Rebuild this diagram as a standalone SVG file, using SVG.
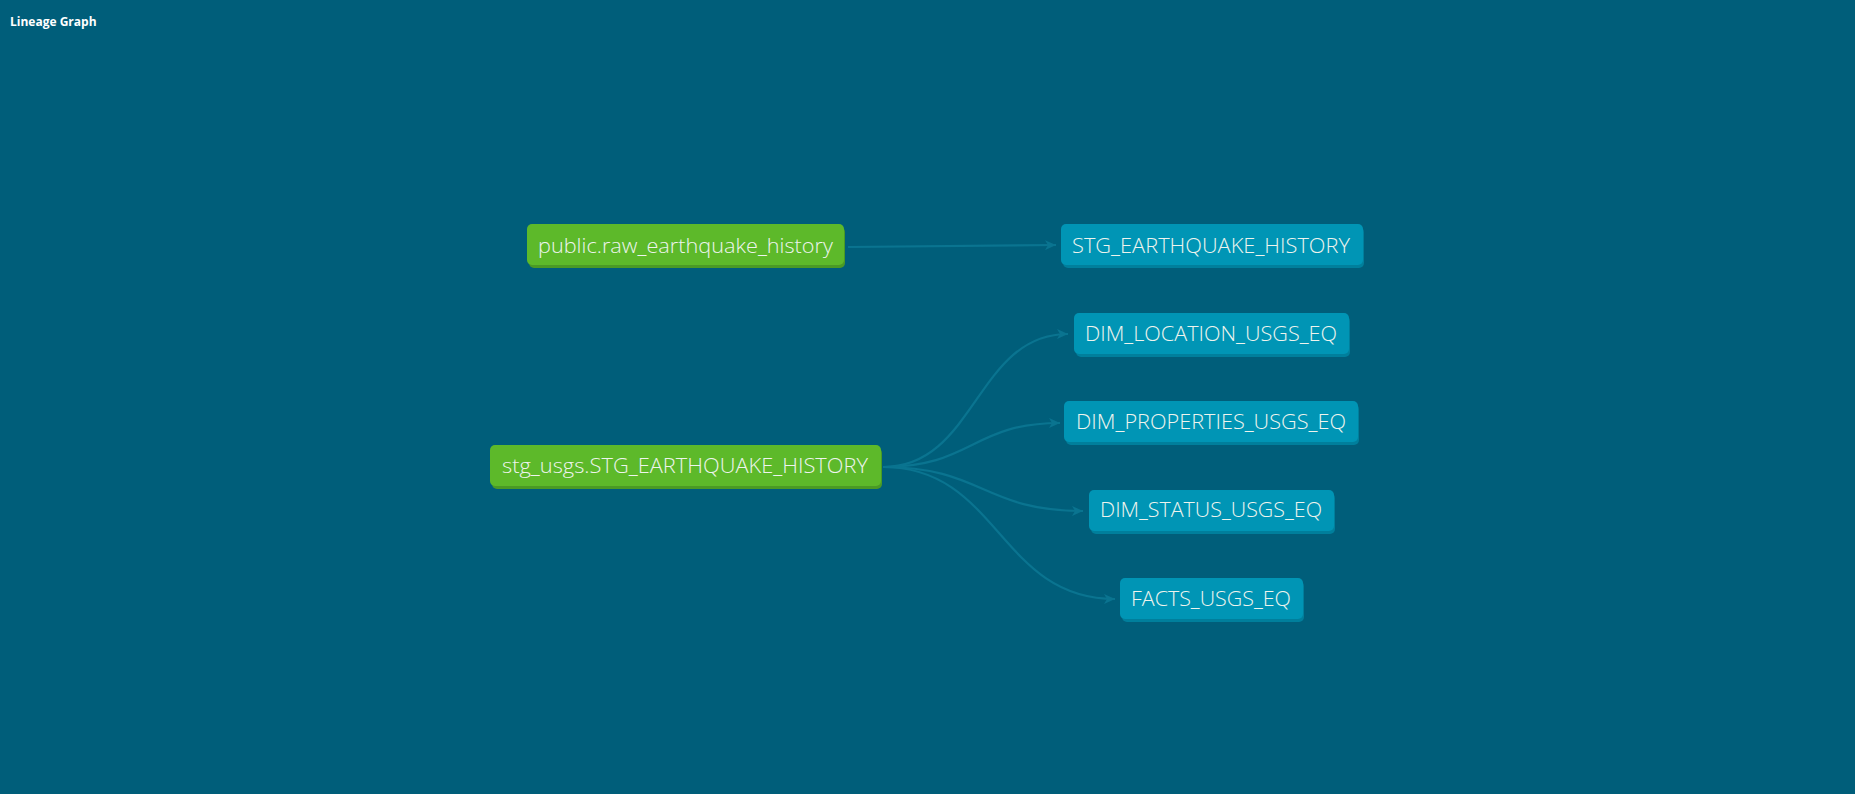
<svg xmlns="http://www.w3.org/2000/svg" width="1855" height="794" viewBox="0 0 1855 794">
<style>
.title{font-family:"Open Sans","Liberation Sans",sans-serif;font-weight:bold;font-size:12px;fill:#ffffff}
.lbl{font-family:"Open Sans","Liberation Sans",sans-serif;font-weight:300;font-size:21px;fill:#eef4ee;text-anchor:middle}
.src .main{fill:#5db92a}
.src .shadow{fill:#4a9a25}
.mdl .main{fill:#0095b5}
.mdl .shadow{fill:#007f9c}
.edge{fill:none;stroke:#0a7490;stroke-width:2.2}
</style>
<defs>
<marker id="arr" markerUnits="userSpaceOnUse" markerWidth="12" markerHeight="10" refX="11" refY="5" orient="auto">
<path d="M0,0 L11,5 L0,10 L3,5 z" fill="#0a7490"/>
</marker>
</defs>
<rect width="1855" height="794" fill="#005e7a"/>
<text class="title" x="10" y="25.5">Lineage Graph</text>
<g id="edges">
<path class="edge" d="M848,247 L1056,245" marker-end="url(#arr)"/>
<path class="edge" d="M883,467 C976,467 976,334 1068,334" marker-end="url(#arr)"/>
<path class="edge" d="M883,467 C972,467 972,423 1060,423" marker-end="url(#arr)"/>
<path class="edge" d="M883,467 C983,467 983,511 1083,511" marker-end="url(#arr)"/>
<path class="edge" d="M883,467 C999,467 999,599 1115,599" marker-end="url(#arr)"/>
</g>
<g id="node-raw" class="src">
<rect class="shadow" x="529" y="227" width="316" height="41" rx="5"/>
<rect class="main" x="527" y="224" width="317" height="41" rx="5"/>
<text class="lbl" x="685.5" y="253" textLength="295" lengthAdjust="spacingAndGlyphs">public.raw_earthquake_history</text>
</g>
<g id="node-stg-src" class="src">
<rect class="shadow" x="492" y="448" width="390" height="41" rx="5"/>
<rect class="main" x="490" y="445" width="391" height="41" rx="5"/>
<text class="lbl" x="685" y="473" textLength="366" lengthAdjust="spacingAndGlyphs">stg_usgs.STG_EARTHQUAKE_HISTORY</text>
</g>
<g id="node-stg" class="mdl">
<rect class="shadow" x="1063" y="227" width="301" height="41" rx="5"/>
<rect class="main" x="1061" y="224" width="302" height="41" rx="5"/>
<text class="lbl" x="1211" y="253" textLength="278" lengthAdjust="spacingAndGlyphs">STG_EARTHQUAKE_HISTORY</text>
</g>
<g id="node-dim-location" class="mdl">
<rect class="shadow" x="1076" y="316" width="274" height="41" rx="5"/>
<rect class="main" x="1074" y="313" width="275" height="41" rx="5"/>
<text class="lbl" x="1211" y="341" textLength="252" lengthAdjust="spacingAndGlyphs">DIM_LOCATION_USGS_EQ</text>
</g>
<g id="node-dim-properties" class="mdl">
<rect class="shadow" x="1066" y="404" width="293" height="41" rx="5"/>
<rect class="main" x="1064" y="401" width="294" height="41" rx="5"/>
<text class="lbl" x="1211" y="429" textLength="270" lengthAdjust="spacingAndGlyphs">DIM_PROPERTIES_USGS_EQ</text>
</g>
<g id="node-dim-status" class="mdl">
<rect class="shadow" x="1091" y="493" width="244" height="41" rx="5"/>
<rect class="main" x="1089" y="490" width="245" height="41" rx="5"/>
<text class="lbl" x="1211" y="517" textLength="222" lengthAdjust="spacingAndGlyphs">DIM_STATUS_USGS_EQ</text>
</g>
<g id="node-facts" class="mdl">
<rect class="shadow" x="1122" y="581" width="182" height="41" rx="5"/>
<rect class="main" x="1120" y="578" width="183" height="41" rx="5"/>
<text class="lbl" x="1211" y="606" textLength="160" lengthAdjust="spacingAndGlyphs">FACTS_USGS_EQ</text>
</g>
</svg>
